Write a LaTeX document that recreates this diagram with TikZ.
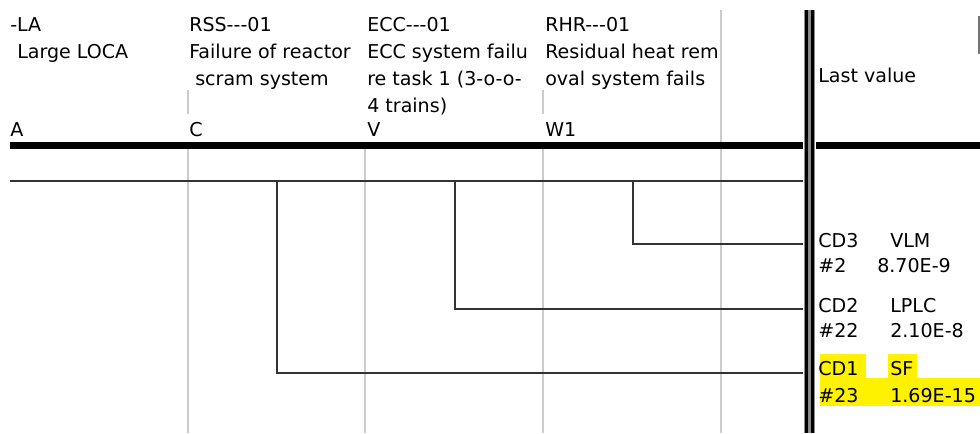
\documentclass[tikz,border=0pt]{standalone}
\usepackage{fontspec}
\setmainfont{DejaVu Sans}[Ligatures=TeXOff]
\begin{document}
\begin{tikzpicture}[x=0.75pt,y=-0.75pt,
  txt/.style={anchor=base west,inner sep=0pt,font=\fontsize{14.3}{17}\selectfont,text=black},
  sep/.style={draw=black!20,line width=1.5pt},
  branch/.style={draw=black!80,line width=1.1pt},
  heavy/.style={draw=black,line width=5pt},
  hl/.style={fill=yellow,draw=none}]
\useasboundingbox (0,0) rectangle (980,433);
\fill[white] (0,0) rectangle (980,433);

% column separators
\draw[sep] (188,90) -- (188,114);
\draw[sep] (543,90) -- (543,114);
\foreach \cx in {188,365,543} \draw[sep] (\cx,149) -- (\cx,433);
\draw[sep] (721,10) -- (721,433);

% header rule
\draw[heavy] (10,145.5) -- (803,145.5);
\draw[heavy] (816,145.5) -- (980,145.5);

% double rule between tree and results
\fill[black!45] (803.5,10) rectangle (815,433);
\fill[black] (805,10) rectangle (808.3,433);
\fill[black] (810.7,10) rectangle (814,433);

% small frame edge at the top right
\draw[draw=black!55,line width=1.5pt] (978.5,16) -- (978.5,54);

% headers
\node[txt] (h1a) at (10,31) {-LA};
\node[txt] (h1b) at (17,58) {Large LOCA};
\node[txt] (h1c) at (10,136) {A};
\node[txt] (h2a) at (189,31) {RSS---01};
\node[txt] (h2b) at (189,58) {Failure of reactor};
\node[txt] (h2c) at (195,85) {scram system};
\node[txt] (h2d) at (189,136) {C};
\node[txt] (h3a) at (367,31) {ECC---01};
\node[txt] (h3b) at (367,58) {ECC system failu};
\node[txt] (h3c) at (367,85) {re task 1 (3-o-o-};
\node[txt] (h3d) at (367,112) {4 trains)};
\node[txt] (h3e) at (367,136) {V};
\node[txt] (h4a) at (545,31) {RHR---01};
\node[txt] (h4b) at (545,58) {Residual heat rem};
\node[txt] (h4c) at (545,85) {oval system fails};
\node[txt] (h4d) at (545,136) {W1};
\node[txt] (hlast) at (818,82) {Last value};

% event tree
\coordinate (start) at (10,181);
\coordinate (top) at (803,181);
\coordinate (bC) at (277,181);
\coordinate (bV) at (455,181);
\coordinate (bW) at (633,181);
\coordinate (e3) at (803,244);
\coordinate (e2) at (803,309);
\coordinate (e1) at (803,373);
\draw[branch] (start) -- (top);
\draw[branch] (bW) |- (e3);
\draw[branch] (bV) |- (e2);
\draw[branch] (bC) |- (e1);

% highlighted sequence
\fill[hl] (820,354) rectangle (866,378.5);
\fill[hl] (888,354) rectangle (917,378.5);
\fill[hl] (820,378) rectangle (980,406);

% end states
\node[txt] (c3) at (818,247) {CD3};
\node[txt] (v3) at (890,247) {VLM};
\node[txt] (n3) at (818,272) {\#2};
\node[txt] (f3) at (877,272) {8.70E-9};
\node[txt] (c2) at (818,312) {CD2};
\node[txt] (v2) at (890,312) {LPLC};
\node[txt] (n2) at (818,337) {\#22};
\node[txt] (f2) at (890,337) {2.10E-8};
\node[txt] (c1) at (818,375) {CD1};
\node[txt] (v1) at (890,375) {SF};
\node[txt] (n1) at (818,402) {\#23};
\node[txt] (f1) at (890,402) {1.69E-15};
\end{tikzpicture}
\end{document}
